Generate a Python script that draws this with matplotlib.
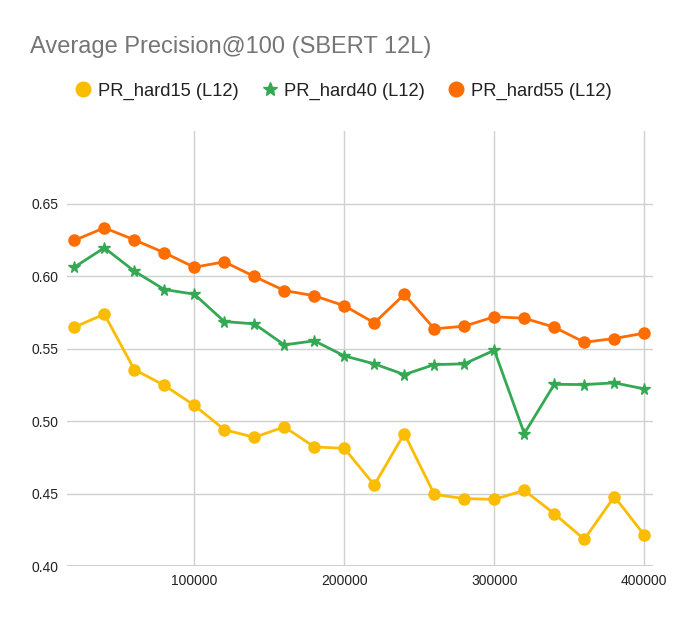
import matplotlib
matplotlib.use("Agg")
import matplotlib.pyplot as plt
from matplotlib.ticker import FormatStrFormatter
from matplotlib.lines import Line2D

plt.rcParams['font.family'] = ['Liberation Sans', 'DejaVu Sans']

x_vals = [20000, 40000, 60000, 80000, 100000, 120000, 140000, 160000, 180000, 200000,
          220000, 240000, 260000, 280000, 300000, 320000, 340000, 360000, 380000, 400000]
pr_hard15 = [0.5648, 0.5738, 0.5356, 0.5247, 0.5109, 0.4941, 0.4888, 0.4960, 0.4822, 0.4812,
             0.4559, 0.4914, 0.4494, 0.4465, 0.4460, 0.4522, 0.4361, 0.4184, 0.4479, 0.4214]
pr_hard40 = [0.6062, 0.6196, 0.6035, 0.5908, 0.5876, 0.5687, 0.5671, 0.5526, 0.5554, 0.5450,
             0.5395, 0.5321, 0.5390, 0.5395, 0.5489, 0.4914, 0.5254, 0.5252, 0.5264, 0.5222]
pr_hard55 = [0.6247, 0.6334, 0.6251, 0.6162, 0.6062, 0.6099, 0.5998, 0.5901, 0.5865, 0.5796,
             0.5678, 0.5874, 0.5637, 0.5655, 0.5720, 0.5710, 0.5648, 0.5544, 0.5570, 0.5607]
series_names = ["PR_hard15 (L12)", "PR_hard40 (L12)", "PR_hard55 (L12)"]
x_ticks = [100000, 200000, 300000, 400000]
y_ticks = [0.40, 0.45, 0.50, 0.55, 0.60, 0.65]
title = "Average Precision@100 (SBERT 12L)"

fig = plt.figure(figsize=(6.84, 6.21), dpi=100)
ax = fig.add_axes([66.7/684, 1-566/621, (652.7-66.7)/684, (566-131.3)/621])

ax.plot(x_vals, pr_hard15, color="#fbbc04", lw=2, marker="o", ms=8, label=series_names[0], zorder=3)
ax.plot(x_vals, pr_hard40, color="#34a853", lw=2, marker="*", ms=8.5, label=series_names[1], zorder=3)
ax.plot(x_vals, pr_hard55, color="#ff6d01", lw=2, marker="o", ms=8, label=series_names[2], zorder=3)

ax.set_xlim(14933, 405600)
ax.set_ylim(0.40, 0.70)
ax.set_xticks(x_ticks)
ax.set_yticks(y_ticks)
ax.yaxis.set_major_formatter(FormatStrFormatter('%.2f'))
ax.xaxis.set_major_formatter(FormatStrFormatter('%d'))
ax.grid(True, color="#d0d0d0", lw=1)
ax.set_axisbelow(True)
for s in ax.spines.values():
    s.set_visible(False)
ax.tick_params(length=0, labelsize=10, colors="#222222", pad=6)
ax.tick_params(axis='y', pad=6)
ax.axhline(0.40, color="#c8c8c8", lw=1.2, zorder=1)

fig.text(30/684, 1-47/621, title, fontsize=17, color="#757575", va="center", ha="left")

hs = [Line2D([], [], ls="none", marker="o", color="#fbbc04", ms=10.5),
      Line2D([], [], ls="none", marker="*", color="#34a853", ms=10),
      Line2D([], [], ls="none", marker="o", color="#ff6d01", ms=10.5)]
fig.legend(hs, series_names, loc="center", bbox_to_anchor=(342/684, 1-91/621), ncol=3, frameon=False,
           fontsize=13.2, handletextpad=0.2, columnspacing=1.1, handlelength=1.2, labelcolor="#222222")

fig.savefig("out.png", dpi=100)
